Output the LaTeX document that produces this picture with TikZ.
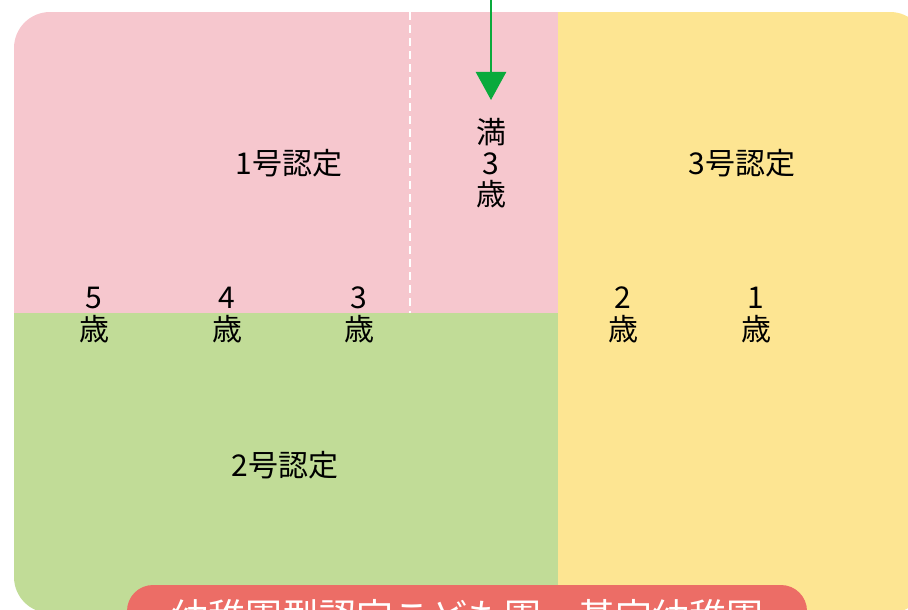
\documentclass[tikz,border=0pt]{standalone}
\usepackage{fontspec}
\setmainfont{Noto Sans CJK JP}
\usetikzlibrary{arrows.meta}
\definecolor{pinkbg}{HTML}{F6C7CE}
\definecolor{greenbg}{HTML}{C1DC97}
\definecolor{yellowbg}{HTML}{FDE592}
\definecolor{redbg}{HTML}{EC6D66}
\definecolor{arrowgreen}{HTML}{0AAA3C}
\begin{document}
\begin{tikzpicture}[x=1pt,y=-1pt,
  lbl/.style={font=\fontsize{30}{31}\selectfont, align=center, inner sep=0pt, text=black},
  agelbl/.style={font=\fontsize{30}{32}\selectfont, align=center, inner sep=0pt, text=black}]
\useasboundingbox (0,0) rectangle (908,610);
\clip (0,0) rectangle (908,610);
\begin{scope}
  \clip[rounded corners=36pt] (14,12) rectangle (926,613);
  \fill[pinkbg] (14,12) rectangle (558,313);
  \fill[greenbg] (14,313) rectangle (558,613);
  \fill[yellowbg] (558,12) rectangle (926,613);
\end{scope}
% dashed divider
\coordinate (dtop) at (410,12);
\coordinate (dbot) at (410,313);
\draw[white, line width=2.5pt, dash pattern=on 8pt off 5pt] (dtop) -- (dbot);
% labels
\node[lbl] (n1) at (289,163) {1号認定};
\node[lbl] (n3) at (742,163) {3号認定};
\node[lbl] (n2) at (285,465) {2号認定};
\node[lbl] (man) at (491,163) {満\\3\\歳};
% ages
\node[agelbl] (a5) at (94,315) {5\\歳};
\node[agelbl] (a4) at (227,315) {4\\歳};
\node[agelbl] (a3) at (359,315) {3\\歳};
\node[agelbl] (a2) at (623,315) {2\\歳};
\node[agelbl] (a1) at (756,315) {1\\歳};
% arrow
\coordinate (arrtop) at (491,0);
\coordinate (arrtip) at (491,100);
\draw[arrowgreen, line width=2.5pt, -{Triangle[width=30pt,length=28pt]}] (arrtop) -- (arrtip);
% banner
\node[fill=redbg, rounded corners=26pt, minimum width=680pt, minimum height=64pt, inner sep=0pt,
      text=white, font=\fontsize{37}{40}\selectfont] (banner) at (467,617) {幼稚園型認定こども園　基定幼稚園};
\end{tikzpicture}
\end{document}
